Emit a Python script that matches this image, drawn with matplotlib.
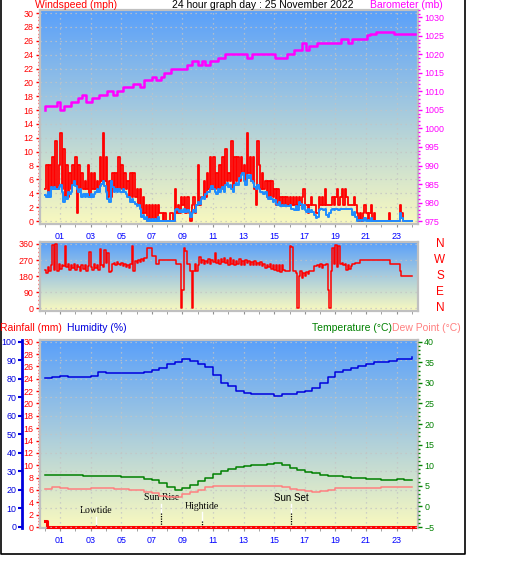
import numpy as np
import matplotlib
matplotlib.use('Agg')
import matplotlib.pyplot as plt
from matplotlib.colors import LinearSegmentedColormap
from matplotlib.lines import Line2D
from matplotlib.ticker import MultipleLocator, FixedLocator
from matplotlib.transforms import blended_transform_factory

plt.rcParams['font.family'] = ['Liberation Sans', 'DejaVu Sans']

# ---------------- data ----------------
title = '24 hour graph day : 25 November 2022'
hour_ticks = [1, 3, 5, 7, 9, 11, 13, 15, 17, 19, 21, 23]

# wind, sampled every 0.1 h from 00:00
wind_gust = [
    4.6, 8.1, 3.5, 8.1, 4.6, 9.2, 4.6, 11.5, 4.6, 8.1,
    12.7, 4.6, 10.4, 3.5, 8.1, 3.5, 6.9, 4.6, 8.1, 5.8,
    9.2, 1.2, 8.1, 4.6, 6.9, 4.6, 5.8, 4.6, 8.1, 3.5,
    6.9, 4.6, 6.9, 4.6, 5.8, 4.6, 9.2, 5.8, 12.7, 5.8,
    9.2, 3.5, 5.8, 3.5, 6.9, 4.6, 6.9, 4.6, 9.2, 4.6,
    8.1, 4.6, 6.9, 4.6, 5.8, 3.5, 6.9, 3.5, 6.9, 3.5,
    4.6, 2.3, 4.6, 1.2, 3.5, 1.2, 2.3, 0, 2.3, 0,
    2.3, 0, 2.3, 0, 2.3, 1.2, 1.2, 0, 1.2, 0,
    0, 0, 1.2, 1.2, 0, 4.6, 1.2, 2.3, 1.2, 3.5,
    2.3, 3.5, 1.2, 3.5, 1.2, 0, 2.3, 3.5, 1.2, 2.3,
    8.1, 2.3, 3.5, 3.5, 5.8, 3.5, 6.9, 4.6, 9.2, 4.6,
    9.2, 4.6, 6.9, 4.6, 8.1, 4.6, 9.2, 4.6, 10.4, 5.8,
    6.9, 5.8, 11.5, 4.6, 9.2, 5.8, 9.2, 5.8, 9.2, 6.9,
    8.1, 5.8, 12.7, 6.9, 9.2, 5.8, 9.2, 4.6, 2.3, 11.5,
    8.1, 4.6, 6.9, 4.6, 5.8, 3.5, 5.8, 3.5, 5.8, 3.5,
    4.6, 2.3, 4.6, 2.3, 3.5, 2.3, 3.5, 2.3, 3.5, 2.3,
    3.5, 2.3, 3.5, 2.3, 3.5, 2.3, 3.5, 2.3, 3.5, 4.6,
    2.3, 2.3, 1.2, 2.3, 3.5, 2.3, 2.3, 1.2, 1.2, 3.5,
    2.3, 3.5, 2.3, 4.6, 2.3, 2.3, 2.3, 2.3, 3.5, 2.3,
    3.5, 4.6, 2.3, 3.5, 4.6, 2.3, 4.6, 3.5, 2.3, 2.3,
    2.3, 2.3, 3.5, 2.3, 1.2, 0, 1.2, 0, 1.2, 2.3,
    1.2, 0, 1.2, 2.3, 0, 1.2, 0, 0, 0, 0,
    0, 0, 0, 0, 0, 1.2, 0, 0, 0, 0,
    0, 0, 2.3, 1.2, 0, 0, 0, 0, 0, 0, 0,
]
wind_avg = [
    3.8, 3.5, 4.2, 3.5, 4.9, 4.6, 4.9, 4.6, 4.6, 4.9,
    5.2, 4.2, 2.8, 3.5, 3.2, 4.2, 3.9, 4.2, 5.2, 5.8,
    5.0, 4.6, 4.2, 4.6, 3.5, 3.9, 3.5, 3.9, 3.5, 3.5,
    3.9, 3.5, 3.9, 4.2, 4.6, 4.2, 5.0, 5.4, 5.8, 5.0,
    4.2, 3.2, 2.8, 5.8, 4.9, 4.2, 4.6, 4.2, 4.6, 4.2,
    4.2, 4.6, 4.2, 3.9, 3.5, 3.5, 2.8, 3.2, 2.8, 2.5,
    2.1, 2.3, 1.8, 0.6, 0.9, 0.3, 0.6, 0.0, 0.3, 0.0,
    0.3, 0.0, 0.3, 0.0, 0.6, 0.0, 0.0, 0.0, 0.0, 0.0,
    0.0, 0.0, 0.0, 0.0, 0.0, 1.6, 1.8, 1.6, 1.3, 1.6,
    1.3, 1.8, 1.3, 1.6, 1.3, 0.6, 1.1, 1.6, 1.3, 2.3,
    2.8, 2.5, 3.2, 3.5, 3.2, 3.9, 4.2, 4.2, 4.6, 5.0,
    4.6, 4.2, 3.9, 4.6, 4.2, 4.6, 4.9, 4.2, 5.2, 5.5,
    4.9, 5.2, 4.6, 4.2, 5.2, 5.5, 5.2, 6.2, 6.6, 6.9,
    5.8, 5.2, 6.6, 6.2, 6.6, 5.8, 5.5, 4.9, 4.6, 5.2,
    4.6, 4.2, 4.2, 3.9, 4.2, 3.5, 3.2, 3.5, 3.2, 2.8,
    3.0, 2.5, 2.3, 2.8, 2.1, 2.3, 2.1, 2.3, 2.1, 2.1,
    2.3, 1.8, 1.8, 1.6, 2.1, 1.6, 2.8, 2.5, 1.8, 2.3,
    1.6, 1.3, 1.8, 1.3, 1.6, 1.3, 0.9, 0.4, 0.6, 1.6,
    1.8, 1.8, 1.6, 1.8, 0.9, 0.6, 1.1, 1.6, 1.8, 1.6,
    1.8, 1.8, 1.6, 1.8, 1.8, 1.8, 1.8, 1.8, 1.8, 1.8,
    1.8, 0.9, 1.3, 0.6, 0.0, 0.2, 0.0, 0.2, 0.0, 0.4,
    0.0, 0.2, 0.0, 0.4, 0.0, 0.0, 0.0, 0.0, 0.0, 0.0,
    0.0, 0.0, 0.0, 0.0, 0.0, 0.0, 0.0, 0.0, 0.0, 0.0,
    0.0, 0.0, 1.1, 0.4, 0.0, 0.0, 0.0, 0.0, 0.0, 0.0, 0.0,
]
wind_dir = [
    215, 200, 230, 210, 240, 355, 215, 360, 210, 250,
    220, 240, 235, 350, 230, 250, 215, 240, 225, 250,
    215, 245, 230, 210, 240, 220, 245, 210, 235, 315,
    230, 215, 250, 225, 240, 215, 330, 245, 230, 325,
    255, 310, 205, 210, 250, 255, 245, 260, 250, 240,
    255, 235, 250, 230, 245, 225, 250, 350, 210, 265,
    255, 270, 260, 275, 265, 280, 280, 340, 340, 340,
    290, 290, 290, 250, 250, 270, 270, 270, 270, 270,
    270, 270, 270, 270, 270, 270, 250, 250, 250, 0,
    100, 340, 320, 250, 250, 207, 0, 207, 250, 210,
    240, 285, 255, 270, 250, 265, 255, 275, 250, 270,
    260, 310, 255, 270, 250, 275, 260, 280, 255, 270,
    245, 280, 250, 270, 240, 265, 250, 275, 245, 265,
    240, 270, 255, 265, 240, 260, 245, 265, 240, 255,
    245, 260, 235, 250, 225, 245, 230, 250, 220, 240,
    215, 245, 210, 240, 205, 245, 215, 207, 207, 207,
    350, 345, 207, 207, 195, 0, 180, 207, 170, 200,
    180, 205, 190, 207, 207, 207, 235, 235, 245, 230,
    250, 225, 245, 240, 250, 100, 0, 210, 340, 250,
    355, 230, 350, 250, 255, 240, 250, 215, 245, 220,
    235, 250, 250, 255, 255, 255, 270, 270, 270, 270,
    270, 270, 270, 270, 270, 270, 270, 270, 270, 270,
    270, 270, 270, 270, 270, 270, 250, 250, 250, 250,
    250, 250, 207, 180, 180, 180, 180, 180, 180, 180, 180,
]

baro_hours = [0.0, 0.02, 0.78, 1.0, 1.26, 1.7, 2.2, 2.42, 2.7, 3.07, 3.55,
              4.05, 4.48, 4.75, 5.1, 5.75, 6.23, 6.49, 6.99, 7.27, 7.58, 7.8,
              8.24, 9.28, 9.61, 10.0, 10.26, 10.5, 10.8, 11.35, 11.78, 13.24,
              13.53, 15.05, 15.82, 16.31, 16.8, 17.06, 17.27, 17.78, 19.37,
              19.8, 20.1, 21.05, 21.26, 21.65, 22.85, 24.2]
baro_mb = [1004.9, 1006.0, 1007.1, 1004.9, 1006.0, 1007.1, 1008.3, 1009.0,
           1007.1, 1008.3, 1009.0, 1010.1, 1009.0, 1010.1, 1011.2, 1012.0,
           1011.2, 1013.1, 1014.0, 1013.1, 1014.0, 1015.0, 1016.1, 1017.2,
           1018.3, 1017.2, 1018.3, 1017.2, 1018.3, 1019.1, 1020.2, 1019.1,
           1020.2, 1019.1, 1020.2, 1021.2, 1023.2, 1021.2, 1022.3, 1023.2,
           1024.2, 1023.2, 1024.2, 1025.2, 1025.6, 1026.0, 1025.5, 1025.5]

# half-hourly values from 00:00
humidity = [80.6, 81.1, 81.5, 81.1, 80.8, 80.8, 81.7, 83.5, 82.9, 82.9,
            82.9, 82.9, 82.9, 83.5, 84.5, 85.6, 87.8, 89.2, 90.5, 89.7,
            87.8, 86.2, 82.0, 77.5, 76.3, 73.4, 72.1, 71.6, 71.6, 71.6,
            70.7, 71.6, 71.6, 72.7, 73.6, 74.8, 77.5, 81.1, 83.5, 84.7,
            85.6, 86.9, 87.9, 89.0, 89.0, 89.7, 90.6, 90.6, 91.5]
temperature = [7.6, 7.6, 7.6, 7.6, 7.6, 7.5, 7.3, 7.3, 7.3, 7.3,
               7.2, 7.1, 7.1, 6.7, 6.3, 5.6, 4.6, 4.1, 4.5, 5.3,
               6.1, 7.0, 7.8, 8.6, 9.2, 9.6, 9.9, 10.0, 10.1, 10.2,
               10.5, 10.0, 9.3, 8.9, 8.4, 8.0, 7.6, 7.4, 7.5, 7.2,
               6.9, 6.8, 6.6, 6.6, 6.5, 6.5, 6.7, 6.5, 6.4]
dew_point = [4.2, 4.6, 4.5, 4.3, 4.3, 4.3, 4.4, 4.4, 4.4, 4.3,
             4.2, 4.0, 3.9, 3.6, 3.2, 2.6, 2.2, 2.4, 2.9, 3.4,
             4.1, 4.6, 4.9, 5.0, 5.0, 5.0, 5.0, 5.0, 5.0, 5.0,
             5.0, 4.8, 4.3, 3.9, 3.7, 3.6, 3.7, 4.0, 4.4, 4.5,
             4.5, 4.5, 4.5, 4.5, 4.6, 4.6, 4.7, 4.8, 4.8]
rain_hours = [0.0, 0.12, 24.2]
rain_mm = [1.0, 0.0, 0.0]

event_hours = [3.33, 7.62, 10.25, 16.13]
event_labels = ['Lowtide', 'Sun Rise', 'Hightide', 'Sun Set']

compass_deg = [360, 270, 180, 90, 0]
compass_labels = ['N', 'W', 'S', 'E', 'N']

# ---------------- layout ----------------
W, H = 529, 563
RED, MAG, GRID, EDGE = '#ff0000', '#ff00ff', '#c4c4c4', '#c0c0c0'
XBLUE, HBLUE, GREEN, SALMON = '#0000ff', '#0000dd', '#008000', '#ff8080'
TICK_FS = 6.4


def box(x0, y0, x1, y1):
    return [x0 / W, 1 - y1 / H, (x1 - x0) / W, (y1 - y0) / H]


sky = LinearSegmentedColormap.from_list('sky', ['#f9f9bf', '#5aa0fa'])
fig = plt.figure(figsize=(W / 100, H / 100), dpi=100)


def panel(x0, y0, x1, y1):
    bg = fig.add_axes(box(x0, y0, x1, y1), zorder=0)
    bg.imshow(np.linspace(0, 1, 256).reshape(-1, 1), cmap=sky, origin='lower',
              aspect='auto', extent=(0, 1, 0, 1), interpolation='bilinear')
    bg.set_axis_off()
    ax = fig.add_axes(box(x0, y0, x1, y1), zorder=1)
    ax.set_facecolor('none')
    for s in ax.spines.values():
        s.set_color(EDGE)
        s.set_linewidth(1.6)
    ax.set_xlim(-0.31, 24.4)
    ax.xaxis.set_major_locator(FixedLocator(hour_ticks))
    ax.xaxis.set_minor_locator(MultipleLocator(1))
    ax.set_xticklabels(['%02d' % h for h in hour_ticks])
    ax.tick_params(axis='x', which='both', colors='#909090', labelcolor=XBLUE,
                   labelsize=TICK_FS, length=2, pad=4)
    return ax


def dotted_grid(ax, axis):
    ax.grid(True, axis=axis, color=GRID, linestyle=(0, (1, 3)), linewidth=0.9)


def yticks(ax, color, major, minor):
    ax.yaxis.set_major_locator(MultipleLocator(major))
    ax.yaxis.set_minor_locator(MultipleLocator(minor))
    ax.tick_params(axis='y', which='both', colors=color, labelsize=TICK_FS, pad=1.5)
    ax.tick_params(axis='y', which='major', length=3, width=1)
    ax.tick_params(axis='y', which='minor', length=1.5, width=1)


# ---- top: wind speed + barometer ----
ax1 = panel(40, 10, 418, 224)
ax1.set_ylim(-0.43, 30.45)
yticks(ax1, RED, 2, 0.5)
dotted_grid(ax1, 'both')
wh = np.arange(len(wind_gust)) / 10
ax1.plot(wh, wind_gust, color=RED, lw=1.3, drawstyle='steps-post', zorder=3)
ah = np.arange(len(wind_avg)) / 10
ax1.plot(ah, wind_avg, color='#1e8cff', lw=1.4, drawstyle='steps-post', zorder=4)

ax1b = ax1.twinx()
for s in ax1b.spines.values():
    s.set_visible(False)
ax1b.set_ylim(974.2, 1032.0)
yticks(ax1b, MAG, 5, 1)
ax1b.plot(baro_hours, baro_mb, color=MAG, lw=1.8, drawstyle='steps-post', zorder=3)

fig.text(35 / W, 1 - 8 / H, 'Windspeed (mph)', color=RED, fontsize=7.5, va='baseline')
fig.text(172 / W, 1 - 8 / H, title, color='black', fontsize=7.5, va='baseline')
fig.text(443 / W, 1 - 8 / H, 'Barometer (mb)', color=MAG, fontsize=7.5, va='baseline', ha='right')

# ---- middle: wind direction ----
ax2 = panel(40, 242, 418, 311)
ax2.set_ylim(-15, 371)
ax2.tick_params(axis='x', which='both', labelbottom=False)
yticks(ax2, RED, 90, 22.5)
dotted_grid(ax2, 'y')
dh = np.arange(len(wind_dir)) / 10
ax2.plot(dh, wind_dir, color=RED, lw=1.1, drawstyle='steps-post', zorder=3)
for deg, lab in zip(compass_deg, compass_labels):
    ax2.text(1.058, deg, lab, color=RED, fontsize=8.5, ha='center', va='center',
             transform=blended_transform_factory(ax2.transAxes, ax2.transData))

# ---- bottom: rain, humidity, temperature, dew point ----
ax3 = panel(40, 340, 418, 528)
ax3.set_ylim(-0.16, 30.28)
yticks(ax3, RED, 2, 0.5)
dotted_grid(ax3, 'x')

axh = ax3.twinx()
axh.set_ylim(-0.54, 100.9)
for name, s in axh.spines.items():
    s.set_visible(name == 'left')
axh.spines['left'].set_position(('axes', -0.048))
axh.spines['left'].set_color(HBLUE)
axh.spines['left'].set_linewidth(2)
axh.yaxis.set_ticks_position('left')
axh.yaxis.set_label_position('left')
axh.yaxis.set_major_locator(MultipleLocator(10))
axh.tick_params(axis='y', colors=HBLUE, labelsize=TICK_FS, length=3, width=1.5, pad=1)
axh.grid(True, axis='y', color=GRID, linestyle=(0, (1, 3)), linewidth=0.9)
th = np.arange(len(humidity)) * 0.5
axh.plot(th, humidity, color=HBLUE, lw=1.1, drawstyle='steps-post', zorder=3)

axt = ax3.twinx()
for s in axt.spines.values():
    s.set_visible(False)
axt.set_ylim(-5.24, 40.41)
yticks(axt, GREEN, 5, 1)
axt.plot(np.arange(len(temperature)) * 0.5, temperature, color=GREEN, lw=1.1, drawstyle='steps-post', zorder=3)
axt.plot(np.arange(len(dew_point)) * 0.5, dew_point, color=SALMON, lw=1.1, drawstyle='steps-post', zorder=3)

ax3.plot(rain_hours, rain_mm, color=RED, lw=2.2, drawstyle='steps-post', zorder=5, clip_on=False)

# tide / sun markers (text height, white tick top, white tick bottom in axes fraction)
ev_text = [0.092, 0.161, 0.117, 0.161]
ev_top = [0.060, 0.128, 0.083, 0.128]
ev_mid = [0.016, 0.078, 0.037, 0.078]
ev_font = ['Liberation Serif', 'Liberation Serif', 'Liberation Serif', 'Liberation Sans']
tr = blended_transform_factory(ax3.transData, ax3.transAxes)
for h, lab, ty, t0, t1, fam in zip(event_hours, event_labels, ev_text, ev_top, ev_mid, ev_font):
    ax3.plot([h, h], [t0, t1], color='white', lw=1, transform=tr, zorder=4)
    ax3.plot([h, h], [t1, 0.005], color='black', lw=0.9, linestyle=(0, (1, 1)), transform=tr, zorder=4)
    ax3.text(h, ty, lab, fontsize=7, family=fam, ha='center', va='center', transform=tr, zorder=4)

fig.text(0 / W, 1 - 331 / H, 'Rainfall (mm)', color=RED, fontsize=7.5, va='baseline')
fig.text(67 / W, 1 - 331 / H, 'Humidity (%)', color=HBLUE, fontsize=7.5, va='baseline')
fig.text(392 / W, 1 - 331 / H, 'Temperature (\u00b0C)', color=GREEN, fontsize=7.5, va='baseline', ha='right')
fig.text(392 / W, 1 - 331 / H, 'Dew Point (\u00b0C)', color=SALMON, fontsize=7.5, va='baseline', ha='left')

# outer frame
fig.add_artist(Line2D([0.8 / W, 0.8 / W, 465 / W, 465 / W], [1, 1 - 554 / H, 1 - 554 / H, 1],
                      color='black', lw=1.2, transform=fig.transFigure))

fig.savefig('out.png', dpi=100)
